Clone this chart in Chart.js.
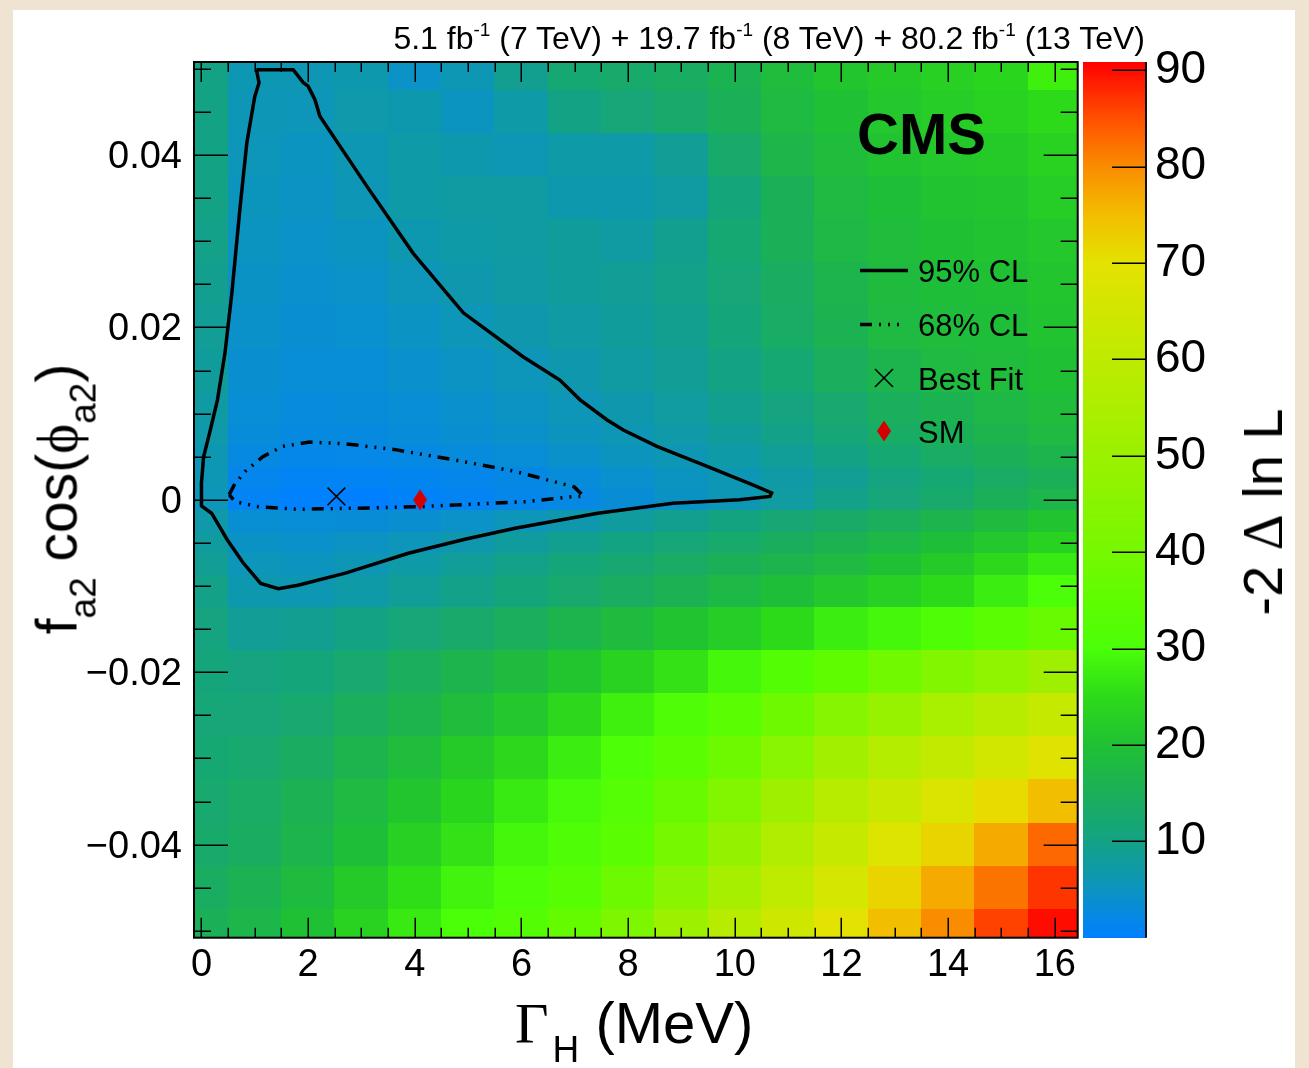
<!DOCTYPE html>
<html><head><meta charset="utf-8">
<script src="https://cdn.jsdelivr.net/npm/chart.js@4.4.1/dist/chart.umd.min.js"></script>
<style>
html,body{margin:0;padding:0;}
body{width:1309px;height:1068px;background:#efe3d2;position:relative;overflow:hidden;font-family:'Liberation Sans',Arial,sans-serif;}
#panel{position:absolute;left:13px;top:10px;width:1282px;height:1058px;background:#fff;}
#c{position:absolute;left:0;top:0;}
.t{position:absolute;white-space:nowrap;color:#000;line-height:1;}
.serif{font-family:'Liberation Serif','DejaVu Serif',serif;}
.rot{transform:translate(-50%,-50%) rotate(-90deg);}
sub,sup{line-height:0;}
#hdr sup{font-size:19px;vertical-align:13px;}
.ax sub{font-size:37px;vertical-align:-19px;}
</style></head><body>
<div id="panel"></div>
<canvas id="c" width="1309" height="1068"></canvas>
<div class="t" id="hdr" style="right:164px;top:22px;font-size:32px;">5.1 fb<sup>-1</sup> (7 TeV) + 19.7 fb<sup>-1</sup> (8 TeV) + 80.2 fb<sup>-1</sup> (13 TeV)</div>
<div class="t" style="left:857px;top:105px;font-size:58px;font-weight:bold;">CMS</div>
<div class="t" style="left:918px;top:256px;font-size:31px;">95% CL</div>
<div class="t" style="left:918px;top:310px;font-size:31px;">68% CL</div>
<div class="t" style="left:918px;top:364px;font-size:31px;">Best Fit</div>
<div class="t" style="left:918px;top:417px;font-size:31px;">SM</div>
<div class="t ax" style="left:515px;top:994px;font-size:58px;"><span class="serif">Γ</span><sub style="margin-left:4px;">H</sub> (MeV)</div>
<div class="t ax rot" style="left:57px;top:499px;font-size:57px;">f<sub>a2</sub> cos(<span class="serif">ϕ</span><sub>a2</sub>)</div>
<div class="t ax rot" style="left:1263px;top:512px;font-size:56px;">-2 <span class="serif">Δ</span> ln L</div>
<script>
// ---------------- data ----------------
const GAMMA_H = [0,1,2,3,4,5,6,7,8,9,10,11,12,13,14,15,16];
const F_A2 = [0.05,0.045,0.04,0.035,0.03,0.025,0.02,0.015,0.01,0.0075,0.005,0.0025,0,
              -0.0025,-0.005,-0.0075,-0.01,-0.015,-0.02,-0.025,-0.03,-0.035,-0.04,-0.045,-0.05];
// -2 Delta ln L, one row per F_A2 value, one column per GAMMA_H value
const DELTA_NLL = [
  [10,6.2,6.0,6.5,4.5,6.0,9,12,13,14,16,19,21,22,23,24,28],
  [10,5.8,5.7,6.8,6.5,5.0,7,10,11.5,13,15,18,20,21.5,22.5,23.5,25],
  [10,5.5,5.0,6.2,7.0,6.5,6,7,7,8.5,13,17,19,20.5,21.5,22,23.5],
  [10,5.3,4.8,5.8,7.0,7.5,7.5,6.5,6.5,7.5,11,15,18,19.5,20.5,21,22.5],
  [9.5,5.0,4.5,5.0,6.3,7.0,7.5,8,7.5,9,12,15,17.5,19,20,20.5,21.5],
  [9,4.6,4.0,4.5,5.5,6.6,7.3,8,8.5,9.5,11.5,14,16.5,18.5,19.5,20,21],
  [8.5,4.2,3.6,3.9,4.7,5.7,6.6,7.3,8,9,11,13.5,16,18,19,19.5,20.5],
  [8,3.8,3.2,3.4,4.0,4.8,5.6,6.6,7.4,8.5,10,12,14.5,16.5,18,19,20],
  [7.3,3.4,2.8,2.9,3.4,4.0,4.8,5.7,6.6,7.7,9,10.5,12.5,14.5,16,17.5,19],
  [6.8,2.9,2.5,2.55,3.0,3.6,4.3,5.1,5.9,6.9,8.0,9.5,11.5,13.5,15,16.5,18],
  [6.1,2.4,1.8,1.9,2.2,2.7,3.4,4.2,5.1,6.0,7.0,8.3,10,12,13.5,15,16.5],
  [5.8,1.5,0.9,0.9,1.2,1.6,2.1,2.9,3.9,4.9,6.0,7.2,8.7,10.5,12,13.5,15],
  [5.5,0.9,0.15,0.1,0.5,1.0,1.6,2.3,3.3,4.6,5.9,7.7,9.6,11.3,13,15,17],
  [6.8,3.5,3.2,3.3,3.8,4.5,5.5,6.6,7.8,9,10.3,11.7,13.2,14.8,16.5,18.5,20.5],
  [7.8,4.6,4.3,4.8,5.6,6.6,7.8,9,10.2,11.4,12.8,14.3,15.8,17.5,19.5,21.5,23.5],
  [8.7,5.5,5.1,6.0,7.1,8.3,9.6,11,12.2,13.5,15,16.5,18,20,22,24.5,27],
  [9.5,6.3,6.1,7.1,8.3,9.6,11,12.5,14,15.5,17.5,19.5,21.5,23,25,27.5,30],
  [10.5,8.5,8.8,10,11.5,13,14.5,16.5,18.5,20.5,22.5,25,27.5,29,31,34,37],
  [11,10.5,11,12.5,14.5,16.5,18.5,21,23.5,26,29,32,35,39,43,47,51],
  [11.5,11.5,12.5,14.5,16.5,19,21.5,24.5,28,31,34,38.5,44,49,54,58,62],
  [12,12.5,14,16.5,19,22,24.5,27.5,30.5,34,38,45,52,57,61,65,69],
  [12.5,13.5,15.5,18,21,24,27,29.5,32.5,37,43,51,58,63,67,71,75],
  [13,14,16.5,19.5,23,26,29,31,34,40,48,56,62,68,72,77,83],
  [14,15.5,18.5,22,25.5,28.5,30.5,33,38,45,53,60,66,72,77,82,87],
  [15,17,20,23.5,27,30,32,36,42,50,58,64,70,75,80,86,90]
];
// 95% CL contour (closed)
const CL95_GAMMA = [1.03,1.72,1.91,2.0,2.13,2.22,3.10,3.97,4.91,6.03,6.72,7.10,7.60,7.91,8.54,9.47,10.35,10.69,10.66,
                    10.09,8.84,7.43,5.88,4.92,3.88,2.70,1.81,1.44,1.11,0.78,0.48,0.19,0.0,0.0,0.04,0.15,0.30,0.44,0.57,0.72,0.85,1.0,1.08,1.03];
const CL95_FA2   = [0.0499,0.0499,0.0484,0.048,0.0464,0.0445,0.0364,0.0286,0.0217,0.0166,0.0139,0.0116,0.0093,0.0081,0.0062,0.0039,0.0017,0.0008,0.0004,
                    0.0,-0.0004,-0.00155,-0.0033,-0.0046,-0.0062,-0.0085,-0.0099,-0.0103,-0.0097,-0.0073,-0.0046,-0.00155,-0.0007,0.002,0.005,0.0077,0.0116,0.017,0.024,0.0337,0.0414,0.0468,0.0484,0.0499];
// 68% CL contour (closed)
const CL68_GAMMA = [0.52,0.63,0.82,1.15,1.52,2.03,2.70,3.66,4.77,5.88,6.99,7.17,6.99,6.10,4.77,4.03,2.92,1.81,1.07,0.63,0.52];
const CL68_FA2   = [0.0006,0.0019,0.0033,0.005,0.0062,0.0067,0.0065,0.0058,0.0046,0.0033,0.0015,0.0004,0.0004,-0.0002,-0.0006,-0.0008,-0.00097,-0.0011,-0.0008,-0.0002,0.0006];
const BEST_FIT_GAMMA = [2.53];
const BEST_FIT_FA2 = [0.0004];
const SM_GAMMA = [4.1];
const SM_FA2 = [0];
const Z_MAX = 90.87;
const X_RANGE = [-0.14, 16.43];
const Y_RANGE = [-0.0508, 0.0508];

// ---------------- colour palette ----------------
const CMAP_STOPS = [0,5,10,15,20,25,30,35,40,50,60,70,75,80,85,90.87];
const CMAP_RGB = [[0,128,255],[12,148,192],[20,162,132],[26,176,88],[32,192,52],[45,218,25],[75,255,8],[95,252,0],
                  [118,248,0],[155,241,0],[190,235,0],[228,226,0],[242,190,0],[250,140,0],[255,80,0],[255,0,0]];
function cmap(v){
  v = Math.max(0, Math.min(Z_MAX, v));
  for (let k = 1; k < CMAP_STOPS.length; k++){
    if (v <= CMAP_STOPS[k]){
      const t = (v - CMAP_STOPS[k-1]) / (CMAP_STOPS[k] - CMAP_STOPS[k-1]);
      const a = CMAP_RGB[k-1], b = CMAP_RGB[k];
      return 'rgb(' + Math.round(a[0]+(b[0]-a[0])*t) + ',' + Math.round(a[1]+(b[1]-a[1])*t) + ',' + Math.round(a[2]+(b[2]-a[2])*t) + ')';
    }
  }
  return 'rgb(255,0,0)';
}
const DASH68 = [12,7,2,7,2,7,2,7];

const heatmapPlugin = {
  id: 'heatmap',
  beforeDatasetsDraw(chart){
    const {ctx, chartArea: a, scales: {x, y}} = chart;
    ctx.save();
    ctx.beginPath(); ctx.rect(a.left, a.top, a.right - a.left, a.bottom - a.top); ctx.clip();
    const nR = F_A2.length, nC = GAMMA_H.length;
    const rowEdge = i => i === 0 ? F_A2[0] + (F_A2[0]-F_A2[1])/2 : (i === nR ? F_A2[nR-1] - (F_A2[nR-2]-F_A2[nR-1])/2 : (F_A2[i-1]+F_A2[i])/2);
    const colEdge = j => j === 0 ? GAMMA_H[0] - (GAMMA_H[1]-GAMMA_H[0])/2 : (j === nC ? GAMMA_H[nC-1] + (GAMMA_H[nC-1]-GAMMA_H[nC-2])/2 : (GAMMA_H[j-1]+GAMMA_H[j])/2);
    for (let i = 0; i < nR; i++){
      const py0 = y.getPixelForValue(rowEdge(i)), py1 = y.getPixelForValue(rowEdge(i+1));
      for (let j = 0; j < nC; j++){
        const px0 = x.getPixelForValue(colEdge(j)), px1 = x.getPixelForValue(colEdge(j+1));
        ctx.fillStyle = cmap(DELTA_NLL[i][j]);
        ctx.fillRect(Math.floor(px0), Math.floor(py0), Math.ceil(px1) - Math.floor(px0), Math.ceil(py1) - Math.floor(py0));
      }
    }
    ctx.restore();
  }
};

const framePlugin = {
  id: 'frame',
  afterDraw(chart){
    const {ctx, chartArea: a, scales: {x, y, z}} = chart;
    ctx.save();
    ctx.strokeStyle = '#000'; ctx.lineWidth = 1.5;
    ctx.beginPath();
    for (let k = 0; k <= 32; k++){
      const v = k * 0.5, px = Math.round(x.getPixelForValue(v)) + 0.25, L = (k % 4 === 0) ? 20 : 10;
      ctx.moveTo(px, a.bottom); ctx.lineTo(px, a.bottom - L);
      ctx.moveTo(px, a.top); ctx.lineTo(px, a.top + L);
    }
    for (let k = -10; k <= 10; k++){
      const v = k * 0.005, py = Math.round(y.getPixelForValue(v)) + 0.25, L = (k % 4 === 0) ? 34 : 17;
      ctx.moveTo(a.left, py); ctx.lineTo(a.left + L, py);
      ctx.moveTo(a.right, py); ctx.lineTo(a.right - L, py);
    }
    ctx.stroke();
    ctx.lineWidth = 2;
    ctx.strokeRect(a.left, a.top, a.right - a.left, a.bottom - a.top);

    // colour bar, through the z scale
    const cx0 = 1083, cx1 = 1146;
    for (let py = Math.floor(z.top); py < Math.ceil(z.bottom); py++){
      ctx.fillStyle = cmap(z.getValueForPixel(py + 0.5));
      ctx.fillRect(cx0, py, cx1 - cx0, 1);
    }
    ctx.strokeStyle = '#111'; ctx.lineWidth = 2;
    ctx.beginPath(); ctx.moveTo(cx1, z.top); ctx.lineTo(cx1, z.bottom); ctx.stroke();
    ctx.lineWidth = 1.5; ctx.strokeStyle = '#000';
    ctx.beginPath();
    z.ticks.forEach(t => { const py = Math.round(z.getPixelForValue(t.value)) + 0.25; ctx.moveTo(1112, py); ctx.lineTo(cx1, py); });
    ctx.stroke();

    // legend symbols
    ctx.lineWidth = 3.5; ctx.lineCap = 'butt';
    ctx.beginPath(); ctx.moveTo(860, 270.5); ctx.lineTo(908, 270.5); ctx.stroke();
    ctx.setLineDash(DASH68);
    ctx.beginPath(); ctx.moveTo(860, 324.5); ctx.lineTo(904, 324.5); ctx.stroke();
    ctx.setLineDash([]);
    ctx.lineWidth = 1.6;
    ctx.beginPath(); ctx.moveTo(875, 369); ctx.lineTo(893, 387); ctx.moveTo(893, 369); ctx.lineTo(875, 387); ctx.stroke();
    ctx.fillStyle = '#d40000';
    ctx.beginPath(); ctx.moveTo(884, 420.5); ctx.lineTo(891, 431); ctx.lineTo(884, 441.5); ctx.lineTo(877, 431); ctx.closePath(); ctx.fill();
    ctx.restore();
  }
};

const dia = document.createElement('canvas'); dia.width = 16; dia.height = 24;
(function(){ const d = dia.getContext('2d'); d.fillStyle = '#d40000'; d.beginPath(); d.moveTo(8,1.5); d.lineTo(15,12); d.lineTo(8,22.5); d.lineTo(1,12); d.closePath(); d.fill(); })();

const pts = (gx, fy) => gx.map((g, i) => ({x: g, y: fy[i]}));
Chart.defaults.font.family = "'Liberation Sans', Arial, sans-serif";
Chart.defaults.color = '#000';
const noPad = s => { s.paddingTop = 0; s.paddingBottom = 0; s.paddingLeft = 0; s.paddingRight = 0; };

new Chart(document.getElementById('c'), {
  type: 'scatter',
  data: { datasets: [
    { label: 'SM', data: pts(SM_GAMMA, SM_FA2), pointStyle: dia, pointRadius: 10 },
    { label: 'Best Fit', data: pts(BEST_FIT_GAMMA, BEST_FIT_FA2), pointStyle: 'crossRot', pointRadius: 12.5, borderColor: '#000', borderWidth: 1.6, backgroundColor: '#000' },
    { label: '68% CL', data: pts(CL68_GAMMA, CL68_FA2), showLine: true, borderColor: '#000', borderWidth: 3.5, borderDash: DASH68, pointRadius: 0, fill: false, tension: 0 },
    { label: '95% CL', data: pts(CL95_GAMMA, CL95_FA2), showLine: true, borderColor: '#000', borderWidth: 3.5, pointRadius: 0, fill: false, tension: 0 }
  ]},
  options: {
    responsive: false, animation: false, events: [],
    layout: { padding: { top: 62, left: 0, right: 0, bottom: 0 } },
    plugins: { legend: { display: false }, tooltip: { enabled: false } },
    scales: {
      x: { type: 'linear', position: 'bottom', min: X_RANGE[0], max: X_RANGE[1],
           afterFit(s){ s.height = 130.3; noPad(s); },
           grid: { display: false, drawTicks: false }, border: { display: false },
           ticks: { stepSize: 2, includeBounds: false, autoSkip: false, maxRotation: 0, padding: 5, font: { size: 38 }, color: '#000' } },
      y: { type: 'linear', position: 'left', min: Y_RANGE[0], max: Y_RANGE[1],
           afterFit(s){ s.width = 194; noPad(s); },
           grid: { display: false, drawTicks: false }, border: { display: false },
           ticks: { stepSize: 0.02, includeBounds: false, autoSkip: false, padding: 12, labelOffset: 2.5, font: { size: 38 }, color: '#000',
                    callback: v => Math.abs(v) < 1e-9 ? '0' : (v < 0 ? '\u2212' : '') + Math.abs(v).toFixed(2) } },
      z: { type: 'linear', axis: 'y', position: 'right', min: 0, max: Z_MAX,
           afterFit(s){ s.width = 231.3; noPad(s); },
           afterBuildTicks(s){ s.ticks = s.ticks.filter(t => t.value > 0); },
           grid: { display: false, drawTicks: false }, border: { display: false },
           ticks: { stepSize: 10, includeBounds: false, autoSkip: false, padding: 77.3, font: { size: 46 }, color: '#000' } }
    }
  },
  plugins: [heatmapPlugin, framePlugin]
});
</script>
</body></html>
